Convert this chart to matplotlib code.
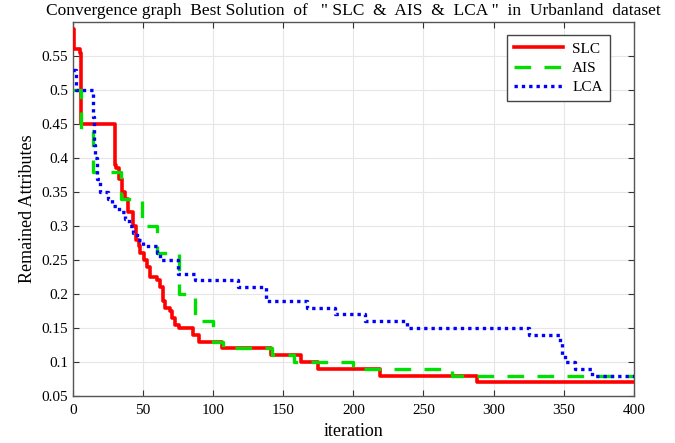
import numpy as np
import matplotlib.pyplot as plt

# step breakpoints: iteration where the best value changes, and the new value
slc_iter = [0, 1, 5, 6, 30, 31, 33, 35, 37, 39, 43, 45, 47, 48, 51, 53, 55, 60, 62,
            64, 66, 69, 71, 73, 76, 86, 90, 106, 141, 163, 175, 219, 288, 400]
slc_val = [0.59, 0.56, 0.555, 0.45, 0.39, 0.385, 0.37, 0.35, 0.34, 0.32, 0.30, 0.28,
           0.27, 0.26, 0.25, 0.24, 0.225, 0.22, 0.21, 0.19, 0.18, 0.175, 0.165, 0.155,
           0.15, 0.14, 0.13, 0.12, 0.11, 0.10, 0.09, 0.08, 0.07, 0.07]

ais_iter = [0, 6, 14, 34, 49, 60, 76, 87, 100, 107, 142, 158, 200, 270, 400]
ais_val = [0.50, 0.44, 0.38, 0.34, 0.30, 0.26, 0.20, 0.16, 0.13, 0.12, 0.11, 0.10,
           0.09, 0.08, 0.08]

lca_iter = [0, 2, 14, 15, 16, 17, 19, 25, 28, 33, 37, 40, 43, 46, 50, 60, 62, 75, 87,
            118, 138, 167, 187, 208, 238, 325, 347, 349, 351, 358, 370, 400]
lca_val = [0.53, 0.50, 0.46, 0.42, 0.40, 0.37, 0.35, 0.34, 0.33, 0.32, 0.31, 0.30,
           0.29, 0.28, 0.27, 0.26, 0.25, 0.23, 0.22, 0.21, 0.19, 0.18, 0.17, 0.16,
           0.15, 0.14, 0.13, 0.11, 0.10, 0.09, 0.08, 0.08]

x_ticks = np.arange(0, 401, 50)
y_ticks = np.arange(0.05, 0.551, 0.05)
y_labels = ['0.05', '0.1', '0.15', '0.2', '0.25', '0.3', '0.35', '0.4', '0.45', '0.5', '0.55']

plt.rcParams['font.family'] = ['Liberation Serif', 'DejaVu Serif']

fig = plt.figure(figsize=(6.75, 4.43), dpi=100)
ax = fig.add_axes([0.108, 0.106, 0.831, 0.844])

ax.step(slc_iter, slc_val, where='post', color='red', lw=2.6, label='SLC', zorder=3)
ax.step(ais_iter, ais_val, where='post', color='#00e000', lw=2.4, ls=(0, (5, 4)),
        label='AIS', zorder=4)
ax.step(lca_iter, lca_val, where='post', color='blue', lw=2.4, ls=(0, (1, 1.2)),
        label='LCA', zorder=5)

ax.set_xlim(0, 400)
ax.set_ylim(0.05, 0.6)
ax.set_xticks(x_ticks)
ax.set_yticks(y_ticks)
ax.set_yticklabels(y_labels)
ax.tick_params(direction='in', top=True, right=True, labelsize=11, colors='#333333',
               length=4)
ax.tick_params(axis='x', pad=6)
for lab in ax.get_xticklabels() + ax.get_yticklabels():
    lab.set_color('black')
ax.grid(True, color='#e6e6e6', lw=0.8)
for sp in ax.spines.values():
    sp.set_color('#555555')
    sp.set_linewidth(1.0)

ax.set_xlabel('iteration', fontsize=13, labelpad=4)
ax.set_ylabel('Remained Attributes', fontsize=13)
ax.set_title('Convergence graph  Best Solution  of   " SLC  &  AIS  &  LCA "  in  Urbanland  dataset',
             fontsize=12.5, pad=5)

leg = ax.legend(loc='upper right', bbox_to_anchor=(0.957, 0.965), borderaxespad=0,
                fontsize=11, handlelength=3.2, fancybox=False, framealpha=1,
                edgecolor='#444444', borderpad=0.45, labelspacing=0.35, handletextpad=0.6)
leg.get_frame().set_linewidth(1.0)

fig.savefig('out.png', dpi=100)
